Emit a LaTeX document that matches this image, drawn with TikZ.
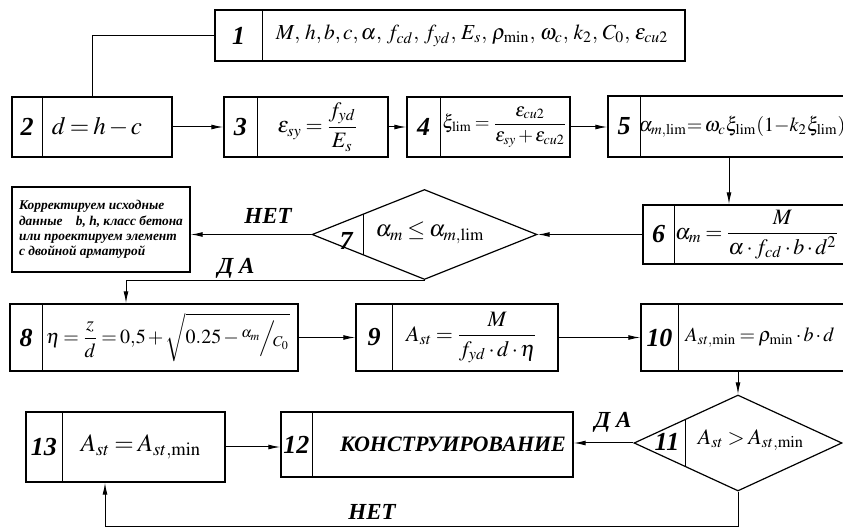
\documentclass[tikz,border=0pt]{standalone}
\usepackage{amsmath}
\usepackage{mathptmx}
\usepackage{fontspec}
\setmainfont{Liberation Serif}
\usetikzlibrary{arrows.meta,positioning,shapes.geometric,fit,calc}

\tikzset{
  blk/.style={draw, line width=0.6pt, inner sep=0pt},
  num/.style={font=\fontsize{13}{15}\selectfont\bfseries\itshape},
  frm/.style={font=\fontsize{11}{13}\selectfont, inner sep=0pt},
  arr/.style={-{Latex[length=6pt,width=2.4pt]}, line width=0.5pt},
  lbl/.style={font=\fontsize{11.5}{13}\selectfont\bfseries\itshape},
  dia/.style={draw, diamond, line width=0.6pt, inner sep=0pt},
}
\newcommand\fs[1]{\fontsize{#1}{#1}\selectfont}
% block: name, x1, y1, x2, y2, divider, number, formula x, formula
\newcommand\blk[9]{%
  \node[blk, fit={(#2,#3)(#4,#5)}] (#1) {};
  \draw[line width=0.5pt] (#6,#3) -- (#6,#5);
  \node[num] (#1n) at ({(#2+#6)/2},{(#3+#5)/2}) {#7};
  \node[frm] (#1f) at (#8,{(#3+#5)/2}) {#9};
}

\begin{document}
\thickmuskip=3mu plus 1mu
\medmuskip=2mu plus 1mu
\begin{tikzpicture}[x=0.5pt, y=-0.5pt]
\clip (0,0) rectangle (843,529);
\fill[white] (0,0) rectangle (843,529);

\blk{b1}{215}{10}{685}{61}{262}{1}{472}{\fs{10.7}$M,\,h,b,c,\alpha,\,f_{cd},\,f_{yd},\,E_s,\,\rho_{\min},\,\omega_c,\,k_2,\,C_0,\,\varepsilon_{cu2}$}
\blk{b2}{12}{97}{172}{157}{42}{2}{97}{\fs{12.5}$d=h-c$}
\blk{b3}{224}{97}{388}{157}{257}{3}{318}{\fs{11}$\varepsilon_{sy}=\dfrac{f_{yd}}{E_s}$}
\blk{b4}{407}{97}{570}{157}{440}{4}{505}{\fs{9.5}$\xi_{\mathrm{lim}}=\dfrac{\varepsilon_{cu2}}{\varepsilon_{sy}+\varepsilon_{cu2}}$}
\blk{b5}{608}{96}{850}{157}{640}{5}{742}{\fs{10}$\alpha_{m,\mathrm{lim}}{=}\,\omega_c\xi_{\mathrm{lim}}(1{-}k_2\xi_{\mathrm{lim}})$}
\blk{b6}{643}{205}{850}{264}{674}{6}{757}{\fs{11}$\alpha_m=\dfrac{M}{\alpha\cdot f_{cd}\cdot b\cdot d^2}$}

\node[dia, minimum width=112.5pt, minimum height=45pt] (d7) at (424.5,234.5) {};
\draw[line width=0.5pt] (363,214) -- (363,255);
\node[num] (d7n) at (346,241) {7};
\node[frm, font=\fs{11.5}] (d7f) at (430,233) {$\alpha_m\le\alpha_{m,\mathrm{lim}}$};

\node[draw, line width=0.6pt, minimum width=89pt, minimum height=42.5pt, inner sep=1pt,
  align=left, font=\fontsize{6.7}{7.6}\selectfont\bfseries\itshape] (note) at (101,229.5)
  {Корректируем исходные\\данные\quad b, h, класс бетона\\или проектируем элемент\\с двойной арматурой};

\blk{b8}{10}{304}{298}{371}{42}{8}{168}{\fs{10}$\eta=\dfrac{z}{d}=0{,}5+\sqrt{0.25-{}^{\alpha_m}\!\Big/\!{}_{C_0}}$}
\blk{b9}{356}{304}{558}{371}{392}{9}{472}{\fs{11}$A_{st}=\dfrac{M}{f_{yd}\cdot d\cdot\eta}$}
\blk{b10}{641}{304}{850}{371}{678}{10}{760}{\fs{10}$A_{st,\min}=\rho_{\min}\cdot b\cdot d$}

\node[dia, minimum width=104pt, minimum height=48pt] (d11) at (738,443) {};
\draw[line width=0.5pt] (685,419.5) -- (685,466.5);
\node[num] (d11n) at (667,442) {11};
\node[frm] (d11f) at (751,440) {$A_{st}>A_{st,\min}$};

\blk{b12}{281}{412}{573}{477}{312}{12}{453}{\fs{11}\bfseries\itshape КОНСТРУИРОВАНИЕ}
\blk{b13}{26}{412}{225}{482}{62}{13}{141}{\fs{12.5}$A_{st}=A_{st,\min}$}

% connectors
\draw[line width=0.5pt] (b2.north) |- (b1.west);
\draw[arr] (b2.east) -- (b3.west);
\draw[arr] (b3.east) -- (b4.west);
\draw[arr] (b4.east) -- (b4.east -| b5.west);
\draw[arr] (b5.south) -- (b5.south |- b6.north);
\draw[arr] (b6.west) -- (d7.east);
\draw[arr] (d7.west) -- (d7.west -| note.east);
\draw[arr] (d7.south) -| ([xshift=-14pt]b8.north);
\draw[arr] (b8.east) -- (b9.west);
\draw[arr] (b9.east) -- (b10.west);
\draw[arr] (b10.south -| d11.north) -- (d11.north);
\draw[arr] (d11.west) -- (d11.west -| b12.east);
\draw[arr] (b13.east) -- (b13.east -| b12.west);
\coordinate (lo) at (105,527);
\draw[arr] (d11.south) |- (lo) -- (lo |- b13.south);

\node[lbl] (no7) at (268,216) {НЕТ};
\node[lbl] (yes7) at (236,268) {Д А};
\node[lbl] (yes11) at (613,422) {Д А};
\node[lbl] (no11) at (372,512) {НЕТ};
\end{tikzpicture}
\end{document}
